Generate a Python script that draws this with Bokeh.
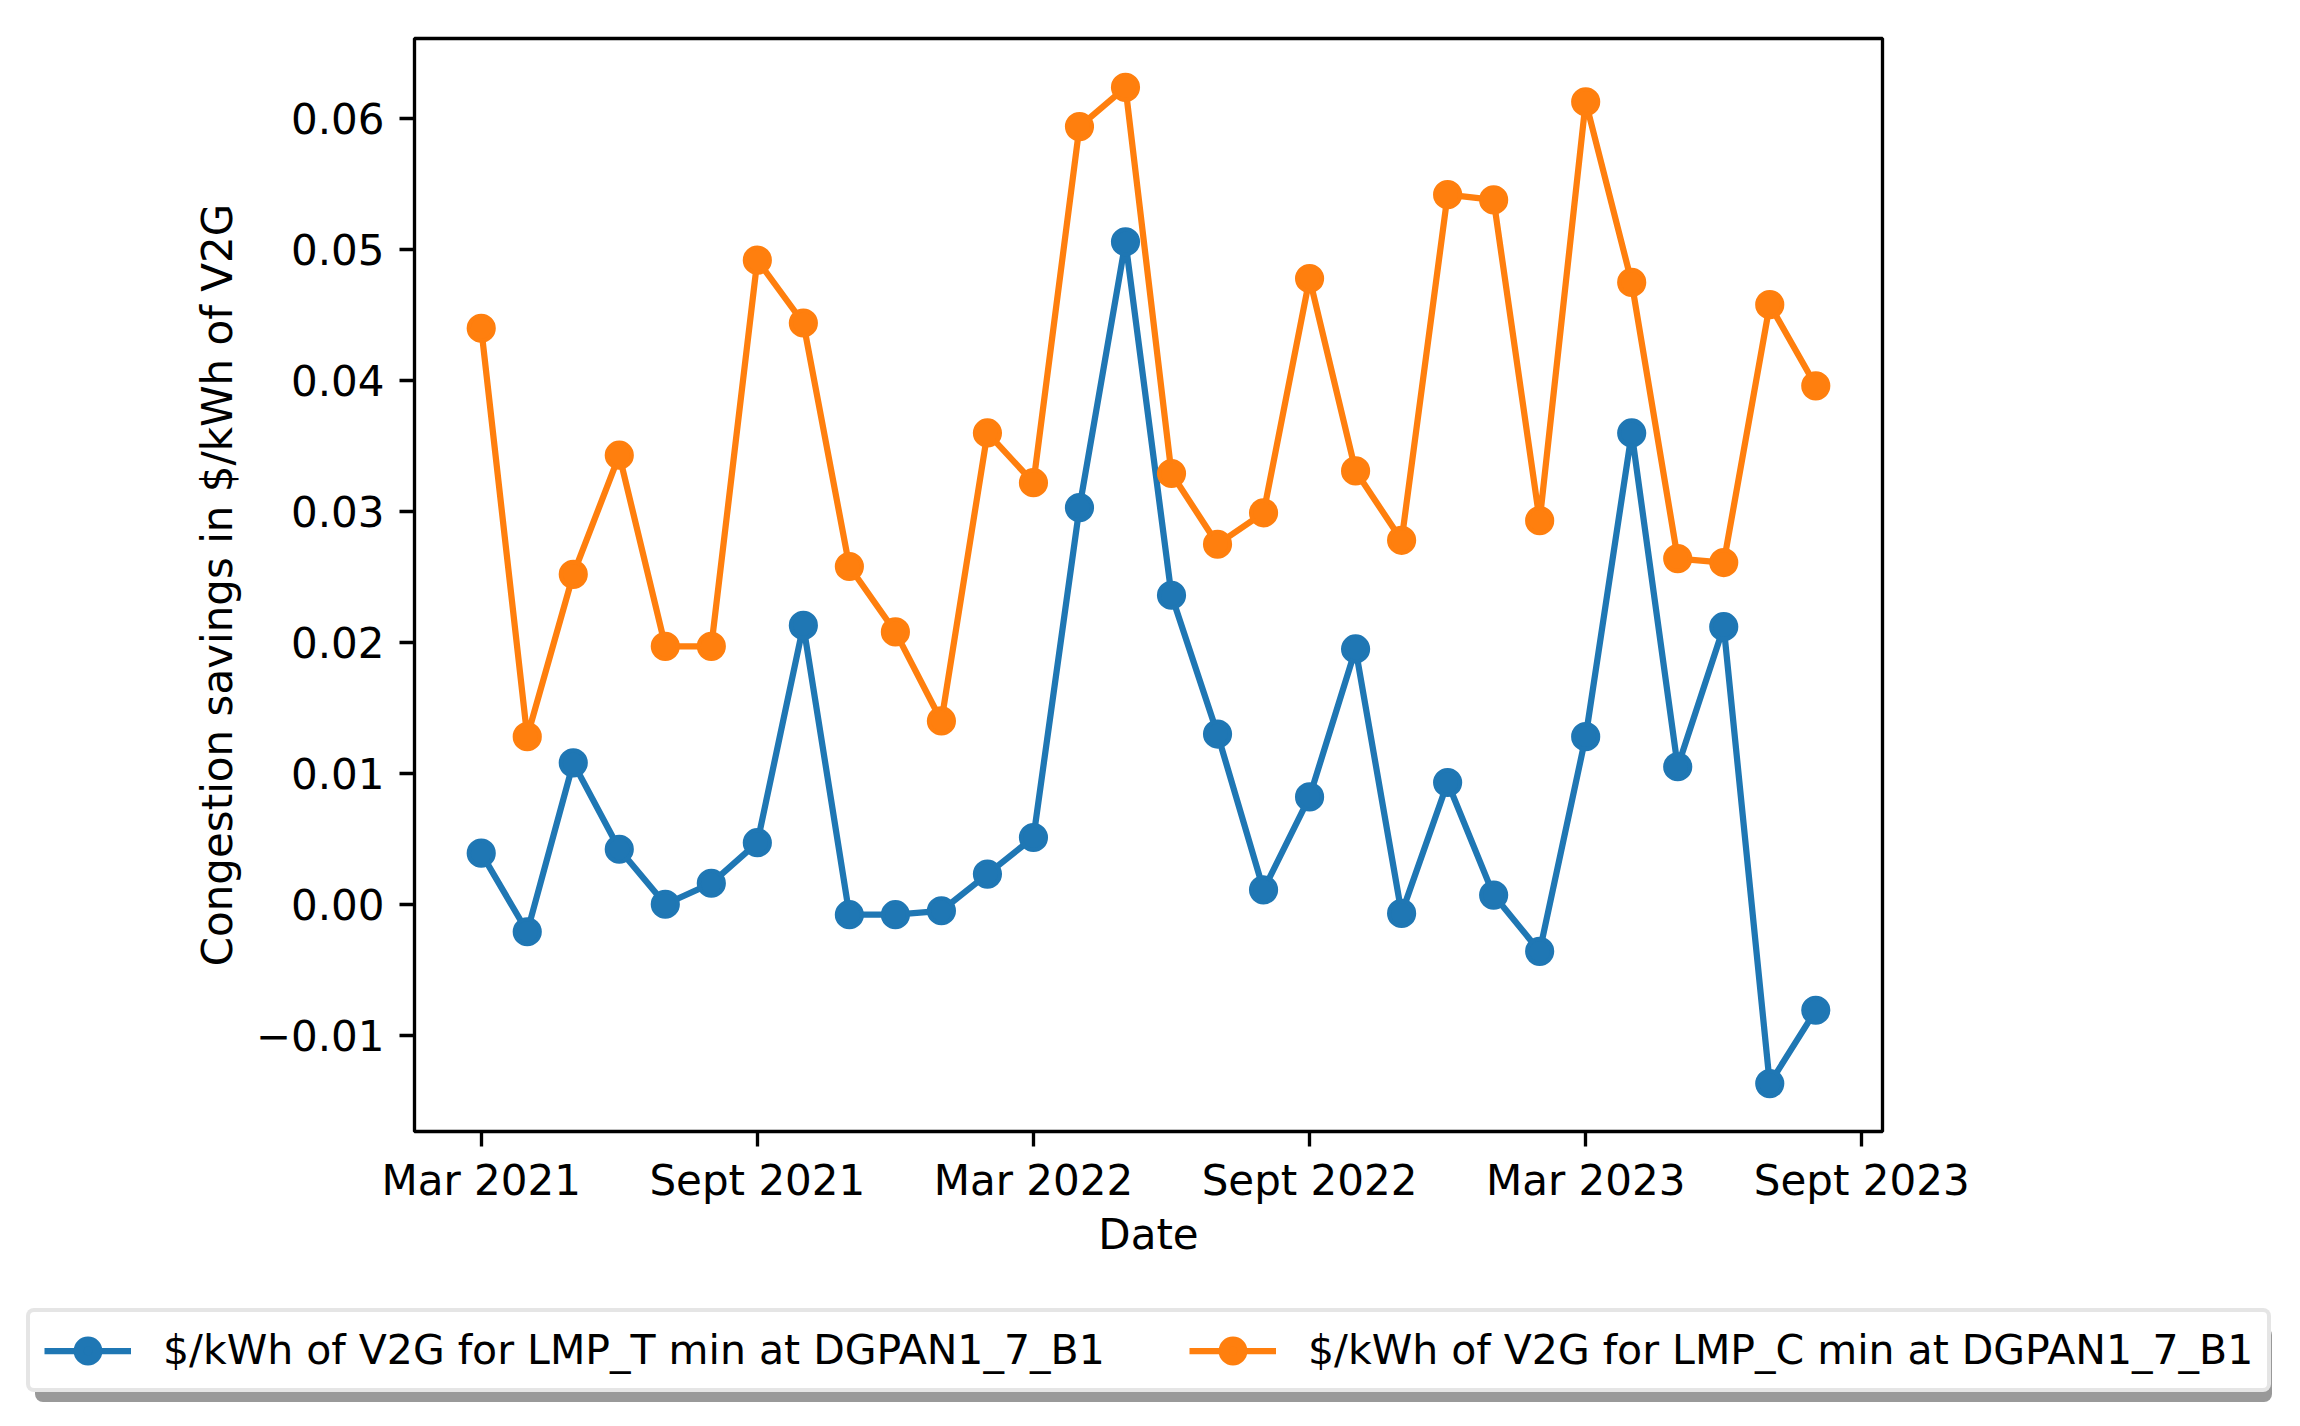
from bokeh.plotting import figure
from bokeh.models import Range1d, FixedTicker, Legend, LegendItem, CustomJSTickFormatter
from bokeh.layouts import column
from bokeh.embed import file_html
from bokeh.resources import INLINE

months = ["2021-03", "2021-04", "2021-05", "2021-06", "2021-07", "2021-08", "2021-09", "2021-10",
          "2021-11", "2021-12", "2022-01", "2022-02", "2022-03", "2022-04", "2022-05", "2022-06",
          "2022-07", "2022-08", "2022-09", "2022-10", "2022-11", "2022-12", "2023-01", "2023-02",
          "2023-03", "2023-04", "2023-05", "2023-06", "2023-07", "2023-08"]

lmp_t = [0.0039, -0.0021, 0.0108, 0.0042, 0.0000, 0.0016, 0.0047, 0.0213,
         -0.0008, -0.0008, -0.0005, 0.0023, 0.0051, 0.0303, 0.0506, 0.0236,
         0.0130, 0.0011, 0.0082, 0.0195, -0.0007, 0.0093, 0.0007, -0.0036,
         0.0128, 0.0360, 0.0105, 0.0212, -0.0137, -0.0081]

lmp_c = [0.0440, 0.0128, 0.0252, 0.0343, 0.0197, 0.0197, 0.0492, 0.0444,
         0.0258, 0.0208, 0.0140, 0.0360, 0.0322, 0.0594, 0.0624, 0.0329,
         0.0275, 0.0299, 0.0478, 0.0331, 0.0278, 0.0542, 0.0538, 0.0293,
         0.0613, 0.0475, 0.0264, 0.0261, 0.0458, 0.0396]

tick_months = [0, 6, 12, 18, 24, 30]
tick_labels = ["Mar 2021", "Sept 2021", "Mar 2022", "Sept 2022", "Mar 2023", "Sept 2023"]
y_ticks = [-0.01, 0.0, 0.01, 0.02, 0.03, 0.04, 0.05, 0.06]

label_t = "$/kWh of V2G for LMP_T min at DGPAN1_7_B1"
label_c = "$/kWh of V2G for LMP_C min at DGPAN1_7_B1"

x = list(range(len(months)))

FONT = "DejaVu Sans"
FS = "42px"
LEG_FS = "41px"
LW = 6.25
BLUE = "#1f77b4"
ORANGE = "#ff7f0e"
W = 2292

p = figure(width=W, height=1280, output_backend="svg", toolbar_location=None,
           x_range=Range1d(-1.45, 30.45), y_range=Range1d(-0.01736, 0.06613),
           min_border_left=414, min_border_top=38, min_border_right=W - 1882, min_border_bottom=149)
p.frame_align = False

p.grid.visible = False
p.outline_line_color = "black"
p.outline_line_width = 3.33
p.background_fill_color = "white"
p.border_fill_color = "white"

l1 = p.line(x, lmp_t, line_color=BLUE, line_width=LW)
s1 = p.scatter(x, lmp_t, size=25, fill_color=BLUE, line_color=BLUE, line_width=4.17)
l2 = p.line(x, lmp_c, line_color=ORANGE, line_width=LW)
s2 = p.scatter(x, lmp_c, size=25, fill_color=ORANGE, line_color=ORANGE, line_width=4.17)

xa = p.xaxis[0]
xa.ticker = FixedTicker(ticks=tick_months)
xa.major_label_overrides = {t: lab for t, lab in zip(tick_months, tick_labels)}
ya = p.yaxis[0]
ya.ticker = FixedTicker(ticks=y_ticks)
ya.formatter = CustomJSTickFormatter(code="""
const v = Math.abs(tick) < 1e-12 ? 0 : tick;
return v < 0 ? '\\u2212' + Math.abs(v).toFixed(2) : v.toFixed(2);
""")
for ax in (xa, ya):
    ax.axis_line_color = None
    ax.major_tick_line_color = "black"
    ax.major_tick_line_width = 3.33
    ax.major_tick_out = 15
    ax.major_tick_in = 0
    ax.minor_tick_line_color = None
    ax.major_label_text_font = FONT
    ax.major_label_text_font_size = FS
    ax.major_label_text_color = "black"
    ax.axis_label_text_font = FONT
    ax.axis_label_text_font_size = FS
    ax.axis_label_text_font_style = "normal"
    ax.axis_label_text_color = "black"
xa.major_label_standoff = 9
ya.major_label_standoff = 15
xa.axis_label = "Date"
xa.axis_label_standoff = 2
ya.axis_label = "Congestion savings in $/kWh of V2G"
ya.axis_label_standoff = 11

# ---- legend strip below the chart ----
LH = 146
q = figure(width=W, height=LH, output_backend="svg", toolbar_location=None,
           x_range=Range1d(0, 1), y_range=Range1d(0, 1),
           min_border_left=0, min_border_right=0, min_border_top=0, min_border_bottom=0)
q.frame_align = False
q.axis.visible = False
q.grid.visible = False
q.outline_line_color = None
q.border_fill_color = "white"
q.background_fill_color = "white"

# proxy renderers (outside visible range) that carry the legend glyph styles
ql1 = q.line([5, 6], [5, 6], line_color=BLUE, line_width=LW)
qs1 = q.scatter([5], [5], size=25, fill_color=BLUE, line_color=BLUE, line_width=10)
ql2 = q.line([5, 6], [5, 6], line_color=ORANGE, line_width=LW)
qs2 = q.scatter([5], [5], size=25, fill_color=ORANGE, line_color=ORANGE, line_width=10)
d1 = q.line([5, 6], [5, 6], line_alpha=0)
d2 = q.line([5, 6], [5, 6], line_alpha=0)

LEG_X = 26
LEG_Y = 34

def style(leg):
    leg.orientation = "horizontal"
    leg.label_text_font = FONT
    leg.label_text_font_size = LEG_FS
    leg.glyph_width = 87
    leg.glyph_height = 47
    leg.label_standoff = 32
    leg.spacing = 81
    leg.padding = 14
    leg.margin = 0
    leg.label_height = 47
    leg.label_width = 945
    if "border_radius" in Legend.properties():
        leg.border_radius = 8

# shadow box: same geometry, blank labels, invisible glyphs
shadow = Legend(items=[LegendItem(label=" ", renderers=[d1]),
                       LegendItem(label=" ", renderers=[d2])],
                location=(LEG_X + 9, LEG_Y - 10))
style(shadow)
shadow.label_text_alpha = 0
shadow.background_fill_color = "#999999"
shadow.background_fill_alpha = 1.0
shadow.border_line_alpha = 0
q.add_layout(shadow, "center")

legend = Legend(items=[LegendItem(label=label_t, renderers=[ql1, qs1]),
                       LegendItem(label=label_c, renderers=[ql2, qs2])],
                location=(LEG_X, LEG_Y))
style(legend)
legend.label_text_color = "black"
legend.background_fill_color = "white"
legend.background_fill_alpha = 1.0
legend.border_line_color = "#cccccc"
legend.border_line_width = 4.17
q.add_layout(legend, "center")

layout = column(p, q, spacing=0)
open("out.html", "w").write(file_html(layout, INLINE))
